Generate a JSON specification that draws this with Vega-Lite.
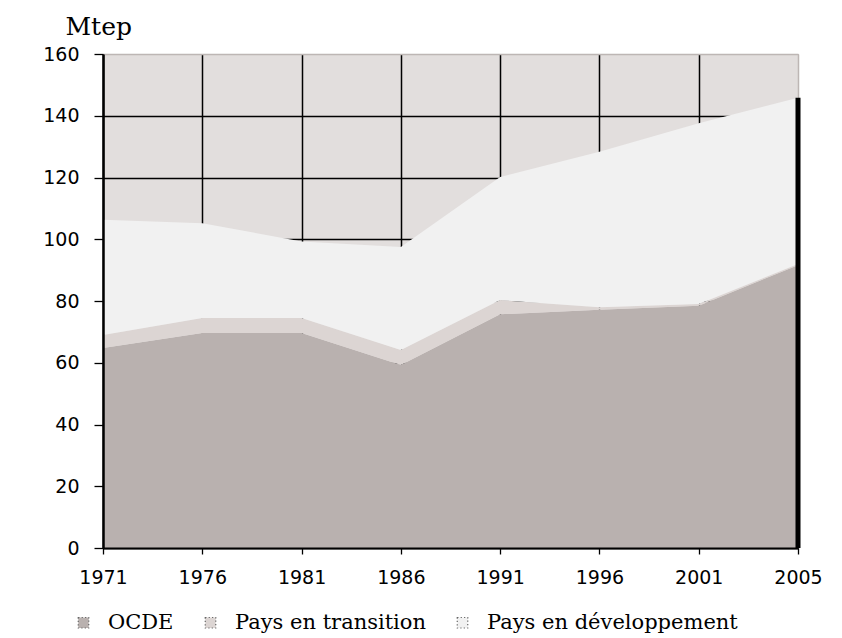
{
  "$schema": "https://vega.github.io/schema/vega-lite/v6.json",
  "width": 695,
  "height": 494,
  "autosize": {"type": "none"},
  "padding": {"left": 103, "top": 54, "right": 44, "bottom": 90},
  "background": "white",
  "config": {
    "view": {"fill": "#e2dedd", "stroke": "#bdb6b4", "strokeWidth": 1}
  },
  "data": {
    "values": [
      {"annee": "1971", "serie": "OCDE", "rang": 1, "valeur": 64.8},
      {"annee": "1971", "serie": "Pays en transition", "rang": 2, "valeur": 4.2},
      {"annee": "1971", "serie": "Pays en développement", "rang": 3, "valeur": 37.3},
      {"annee": "1976", "serie": "OCDE", "rang": 1, "valeur": 69.6},
      {"annee": "1976", "serie": "Pays en transition", "rang": 2, "valeur": 4.9},
      {"annee": "1976", "serie": "Pays en développement", "rang": 3, "valeur": 30.7},
      {"annee": "1981", "serie": "OCDE", "rang": 1, "valeur": 69.6},
      {"annee": "1981", "serie": "Pays en transition", "rang": 2, "valeur": 4.9},
      {"annee": "1981", "serie": "Pays en développement", "rang": 3, "valeur": 24.8},
      {"annee": "1986", "serie": "OCDE", "rang": 1, "valeur": 59.3},
      {"annee": "1986", "serie": "Pays en transition", "rang": 2, "valeur": 4.8},
      {"annee": "1986", "serie": "Pays en développement", "rang": 3, "valeur": 33.4},
      {"annee": "1991", "serie": "OCDE", "rang": 1, "valeur": 75.7},
      {"annee": "1991", "serie": "Pays en transition", "rang": 2, "valeur": 4.6},
      {"annee": "1991", "serie": "Pays en développement", "rang": 3, "valeur": 39.9},
      {"annee": "1996", "serie": "OCDE", "rang": 1, "valeur": 77.2},
      {"annee": "1996", "serie": "Pays en transition", "rang": 2, "valeur": 0.8},
      {"annee": "1996", "serie": "Pays en développement", "rang": 3, "valeur": 50.3},
      {"annee": "2001", "serie": "OCDE", "rang": 1, "valeur": 78.5},
      {"annee": "2001", "serie": "Pays en transition", "rang": 2, "valeur": 0.5},
      {"annee": "2001", "serie": "Pays en développement", "rang": 3, "valeur": 58.6},
      {"annee": "2005", "serie": "OCDE", "rang": 1, "valeur": 91.6},
      {"annee": "2005", "serie": "Pays en transition", "rang": 2, "valeur": 0.4},
      {"annee": "2005", "serie": "Pays en développement", "rang": 3, "valeur": 53.8}
    ]
  },
  "layer": [
    {
      "mark": {"type": "area", "interpolate": "linear"},
      "encoding": {
        "x": {
          "field": "annee",
          "type": "ordinal",
          "scale": {"type": "point", "padding": 0},
          "axis": {
            "orient": "bottom",
            "grid": true,
            "gridColor": {"condition": {"test": "datum.value === '2005'", "value": "#bdb6b4"}, "value": "#000000"},
            "gridWidth": 1.5,
            "domain": false,
            "ticks": false,
            "labels": false,
            "title": null,
            "zindex": 0
          }
        },
        "y": {
          "field": "valeur",
          "type": "quantitative",
          "stack": "zero",
          "scale": {"domain": [0, 160], "nice": false},
          "axis": {
            "orient": "left",
            "values": [0, 20, 40, 60, 80, 100, 120, 140, 160],
            "grid": true,
            "gridColor": {"condition": {"test": "datum.value === 160", "value": "#bdb6b4"}, "value": "#000000"},
            "gridWidth": 1.5,
            "domain": false,
            "ticks": false,
            "labels": false,
            "title": null,
            "zindex": 0
          }
        },
        "color": {
          "field": "serie",
          "type": "nominal",
          "scale": {
            "domain": ["OCDE", "Pays en transition", "Pays en développement"],
            "range": ["#b9b1af", "#dcd5d3", "#f1f1f1"]
          },
          "legend": {
            "orient": "none",
            "legendX": -30,
            "legendY": 558,
            "direction": "horizontal",
            "title": null,
            "symbolType": "square",
            "symbolSize": 110,
            "symbolStrokeColor": "#666666",
            "symbolStrokeWidth": 1.2,
            "symbolDash": [1.2, 2.2],
            "labelFont": "DejaVu Serif",
            "labelFontSize": 21,
            "labelColor": "black",
            "labelLimit": 0,
            "labelOffset": 14,
            "columnPadding": 26
          }
        },
        "order": {"field": "rang", "type": "quantitative"}
      }
    },
    {
      "transform": [{"filter": "datum.annee === '2005'"}],
      "mark": {"type": "rule", "color": "black", "strokeWidth": 5},
      "encoding": {
        "x": {
          "field": "annee",
          "type": "ordinal",
          "axis": {
            "orient": "bottom",
            "grid": false,
            "domainColor": "black",
            "domainWidth": 2,
            "tickColor": "black",
            "tickSize": 6,
            "tickWidth": 1.3,
            "labelFont": "DejaVu Sans",
            "labelFontSize": 19,
            "labelColor": "black",
            "labelPadding": 14,
            "labelAngle": 0,
            "title": null,
            "zindex": 1
          }
        },
        "y": {
          "aggregate": "sum",
          "field": "valeur",
          "type": "quantitative",
          "scale": {"domain": [0, 160], "nice": false},
          "axis": {
            "orient": "left",
            "values": [0, 20, 40, 60, 80, 100, 120, 140, 160],
            "grid": false,
            "domainColor": "black",
            "domainWidth": 2.5,
            "tickColor": "black",
            "tickSize": 9,
            "tickWidth": 1.3,
            "labelFont": "DejaVu Sans",
            "labelFontSize": 19,
            "labelColor": "black",
            "labelPadding": 15,
            "title": "Mtep",
            "titleAngle": 0,
            "titleAlign": "left",
            "titleBaseline": "alphabetic",
            "titleX": -38,
            "titleY": -20,
            "titleFont": "DejaVu Serif",
            "titleFontSize": 25,
            "titleFontWeight": "normal",
            "titleColor": "black",
            "zindex": 1
          }
        },
        "y2": {"datum": 0}
      }
    }
  ],
  "resolve": {"axis": {"x": "independent", "y": "independent"}}
}
